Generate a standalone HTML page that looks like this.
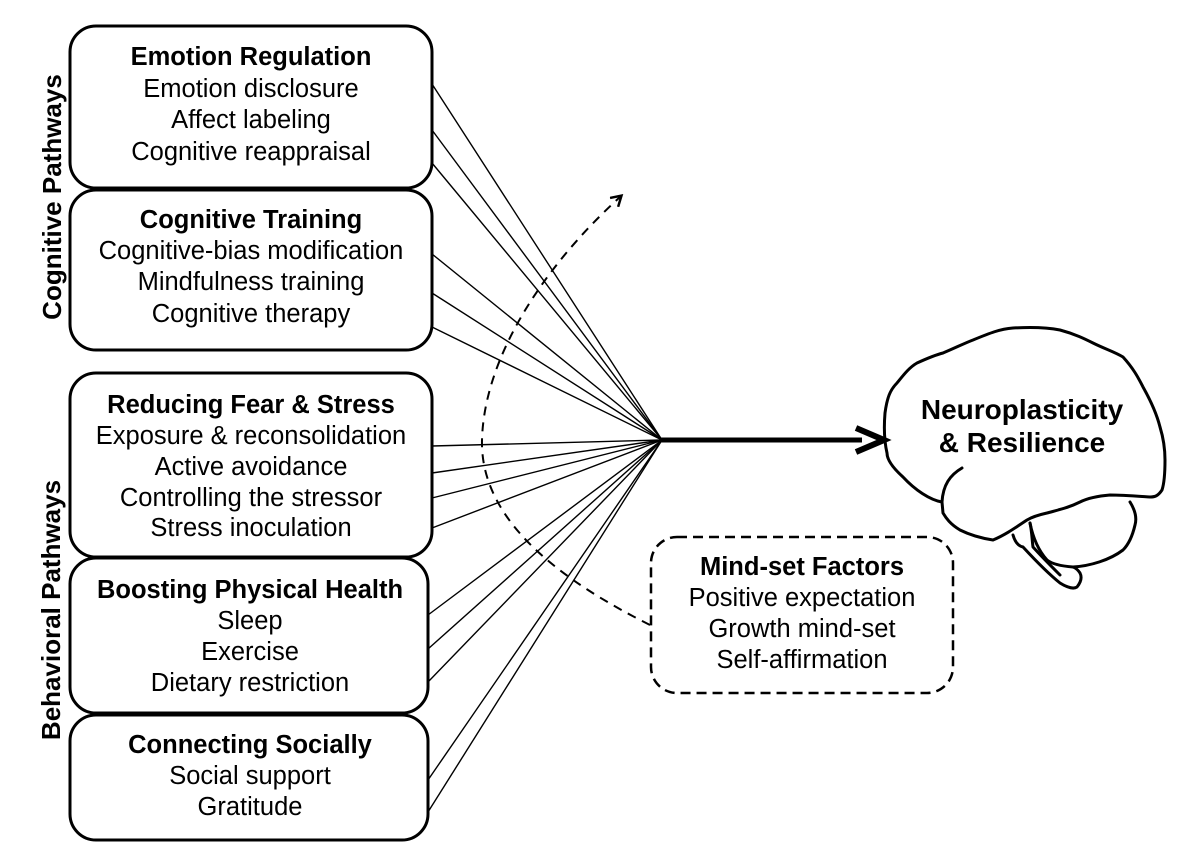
<!DOCTYPE html>
<html><head><meta charset="utf-8"><style>
html,body{margin:0;padding:0;background:#fff;}
svg{display:block;}
text{font-family:"Liberation Sans",Arial,sans-serif;fill:#000;}
.t{font-weight:bold;font-size:25.5px;}
.i{font-size:25.5px;}
</style></head><body>
<svg width="1200" height="866" viewBox="0 0 1200 866" xmlns="http://www.w3.org/2000/svg">
<defs><marker id="ah" markerWidth="14" markerHeight="14" refX="9" refY="7" orient="auto" markerUnits="userSpaceOnUse"><path d="M1,1 L11,7 L1,13" fill="none" stroke="#000" stroke-width="2.5"/></marker></defs>
<g stroke="#000" stroke-width="1.4">
<line x1="432" y1="84" x2="662" y2="440"/>
<line x1="432" y1="130" x2="662" y2="440"/>
<line x1="432" y1="163" x2="662" y2="440"/>
<line x1="432" y1="254" x2="662" y2="440"/>
<line x1="432" y1="293" x2="662" y2="440"/>
<line x1="432" y1="327" x2="662" y2="440"/>
<line x1="432" y1="446" x2="662" y2="440"/>
<line x1="432" y1="473" x2="662" y2="440"/>
<line x1="432" y1="498" x2="662" y2="440"/>
<line x1="432" y1="528" x2="662" y2="440"/>
<line x1="428" y1="615" x2="662" y2="440"/>
<line x1="428" y1="649" x2="662" y2="440"/>
<line x1="428" y1="682" x2="662" y2="440"/>
<line x1="428" y1="780" x2="662" y2="440"/>
<line x1="428" y1="812" x2="662" y2="440"/>
</g>
<line x1="660" y1="440" x2="862" y2="440" stroke="#000" stroke-width="5"/>
<path d="M856,428 L884,440 L856,452" fill="none" stroke="#000" stroke-width="6" stroke-linejoin="miter"/>
<path d="M650,625 C560,580 480,520 482,440 C484,360 540,270 620,197" fill="none" stroke="#000" stroke-width="2" stroke-dasharray="9,7" marker-end="url(#ah)"/>
<g fill="#fff" stroke="#000" stroke-width="3">
<rect x="70" y="26" width="362" height="162" rx="26"/>
<rect x="70" y="190" width="362" height="160" rx="26"/>
<rect x="70" y="373" width="362" height="184" rx="26"/>
<rect x="70" y="558" width="358" height="155" rx="26"/>
<rect x="70" y="715" width="358" height="125" rx="26"/>
<rect x="651" y="537" width="302" height="156" rx="26" stroke-dasharray="10,6" stroke-width="2.5"/>
</g>
<g text-anchor="middle">
<text class="t" x="251" y="65">Emotion Regulation</text>
<text class="i" x="251" y="97">Emotion disclosure</text>
<text class="i" x="251" y="128">Affect labeling</text>
<text class="i" x="251" y="160">Cognitive reappraisal</text>
<text class="t" x="251" y="228">Cognitive Training</text>
<text class="i" x="251" y="259">Cognitive-bias modification</text>
<text class="i" x="251" y="290">Mindfulness training</text>
<text class="i" x="251" y="322">Cognitive therapy</text>
<text class="t" x="251" y="413">Reducing Fear &amp; Stress</text>
<text class="i" x="251" y="444">Exposure &amp; reconsolidation</text>
<text class="i" x="251" y="475">Active avoidance</text>
<text class="i" x="251" y="506">Controlling the stressor</text>
<text class="i" x="251" y="536">Stress inoculation</text>
<text class="t" x="250" y="598">Boosting Physical Health</text>
<text class="i" x="250" y="629">Sleep</text>
<text class="i" x="250" y="660">Exercise</text>
<text class="i" x="250" y="691">Dietary restriction</text>
<text class="t" x="250" y="753">Connecting Socially</text>
<text class="i" x="250" y="784">Social support</text>
<text class="i" x="250" y="815">Gratitude</text>
<text class="t" x="802" y="575">Mind-set Factors</text>
<text class="i" x="802" y="606">Positive expectation</text>
<text class="i" x="802" y="637">Growth mind-set</text>
<text class="i" x="802" y="668">Self-affirmation</text>
<text class="t" transform="translate(61,197) rotate(-90)" style="font-size:26px">Cognitive Pathways</text>
<text class="t" transform="translate(60,610) rotate(-90)" style="font-size:26px">Behavioral Pathways</text>
</g>
<g fill="none" stroke="#000" stroke-width="3" stroke-linejoin="round" stroke-linecap="round">
<path d="M942,502 C930,500 915,490 903,477 C893,468 887,460 887,453 C884,440 884,425 885,413 C887,398 890,390 897,383 C905,373 910,367 917,363 C928,358 935,355 943,353 C955,348 965,343 973,340 C990,333 1000,329 1013,328 C1030,327 1045,327 1060,330 C1075,334 1085,339 1093,343 C1105,349 1115,352 1123,357 C1133,368 1138,377 1143,387 C1152,403 1157,415 1160,427 C1164,440 1165,450 1165,460 C1165,475 1164,484 1162,490 C1158,496 1155,497 1150,497 C1135,496 1122,495 1110,495 C1098,496 1088,498 1080,502 C1068,508 1058,510 1047,513 C1038,515 1032,517 1027,520 C1015,528 1005,535 993,540 C980,538 968,534 960,530 C950,524 946,518 943,513 Z"/>
<path d="M962,468 C950,475 943,485 942,502"/>
<path d="M1130,502 C1135,510 1137,518 1135,525 C1132,538 1128,545 1123,550 C1110,560 1090,566 1073,567 C1060,566 1052,564 1047,560 C1038,550 1033,538 1030,523"/>
<path d="M1013,535 C1015,542 1018,546 1023,547 C1035,560 1050,575 1060,583 C1068,588 1074,589 1077,587 C1081,582 1082,577 1080,573 C1078,570 1076,568 1073,567"/>
<path d="M1030,523 C1032,532 1032,540 1033,547 C1042,557 1052,567 1060,575"/>
</g>
<text x="1022" y="419" text-anchor="middle" style="font-weight:bold;font-size:28px">Neuroplasticity</text>
<text x="1022" y="452" text-anchor="middle" style="font-weight:bold;font-size:28px">&amp; Resilience</text>
</svg>
</body></html>
